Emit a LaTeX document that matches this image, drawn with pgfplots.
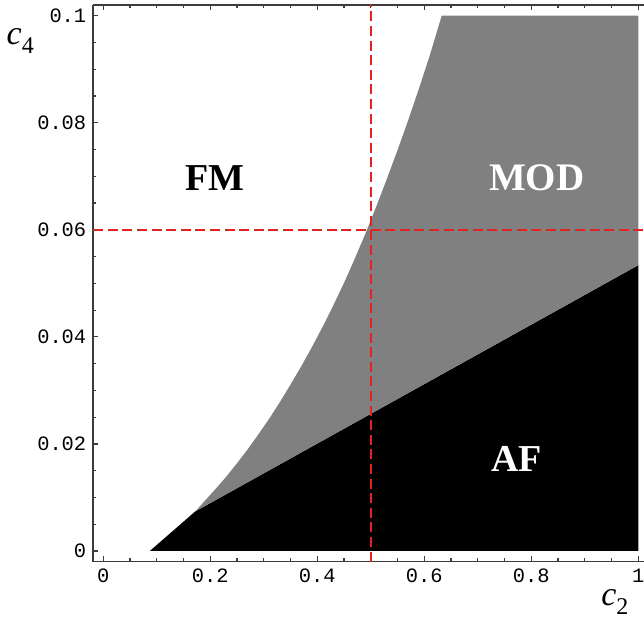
\documentclass[border=0pt]{standalone}
\usepackage{fontspec}
\setmainfont{Liberation Serif}
\setmonofont{Liberation Mono}
\usepackage{pgfplots}
\pgfplotsset{compat=1.18}
\definecolor{mgray}{RGB}{128,128,128}
\definecolor{dred}{RGB}{225,35,35}
\definecolor{axgray}{RGB}{60,60,60}
\begin{document}
\begin{tikzpicture}
\begin{axis}[
  scale only axis,
  width=275.35pt, height=278.35pt,
  xmin=-0.0187, xmax=1.0106,
  ymin=-0.002, ymax=0.102,
  axis x line*=box, axis y line*=left,
  axis line style={axgray, line width=0.8pt},
  tick align=inside,
  major tick length=2.6pt, minor tick length=1.6pt,
  every tick/.style={axgray, line width=0.6pt},
  xtick={0,0.2,0.4,0.6,0.8,1},
  xticklabels={0,0.2,0.4,0.6,0.8,1},
  ytick={0,0.02,0.04,0.06,0.08,0.1},
  yticklabels={0,0.02,0.04,0.06,0.08,0.1},
  minor x tick num=3, minor y tick num=3,
  ticklabel style={font=\fontsize{10.2}{12}\selectfont\ttfamily},
  clip=false,
]
% AF region
\addplot[fill=black, draw=none] coordinates {
  (0.087,0) (0.172,0.0074) (1,0.0534) (1,0)
} -- cycle;
% MOD region
\addplot[fill=mgray, draw=none] coordinates {
  (0.172,0.0074) (0.19,0.0094) (0.21,0.0116) (0.23,0.0139) (0.25,0.0164)
  (0.27,0.0190) (0.29,0.0218) (0.31,0.0247) (0.33,0.0278) (0.35,0.0311)
  (0.37,0.0345) (0.39,0.0381) (0.41,0.0419) (0.43,0.0459) (0.45,0.0501)
  (0.47,0.0546) (0.49,0.0593) (0.51,0.0643) (0.53,0.0695) (0.55,0.0749)
  (0.57,0.0805) (0.59,0.0864) (0.61,0.0925) (0.6325,0.1)
  (1,0.1) (1,0.0534)
} -- cycle;
% dashed guide lines
\addplot[dred, line width=0.9pt, dash pattern=on 5pt off 2.3pt] coordinates {(0.5,-0.002) (0.5,0.102)};
\addplot[dred, line width=0.9pt, dash pattern=on 5pt off 2.3pt] coordinates {(-0.0187,0.06) (1.0106,0.06)};
% region labels
\node[font=\fontsize{19}{21}\selectfont\bfseries, text=black] at (axis cs:0.209,0.0697) {FM};
\node[font=\fontsize{19.5}{21}\selectfont\bfseries, text=white] at (axis cs:0.81,0.0697) {MOD};
\node[font=\fontsize{19}{21}\selectfont\bfseries, text=white] at (axis cs:0.773,0.0172) {AF};
% axis labels
\node at (rel axis cs:-0.1326,0.935) {\fontsize{17}{18}\selectfont\textit{c}\raisebox{-0.28em}{\fontsize{12}{12}\selectfont 4}};
\node at (rel axis cs:0.947,-0.0724) {\fontsize{17}{18}\selectfont\textit{c}\raisebox{-0.28em}{\fontsize{12}{12}\selectfont 2}};
\coordinate (O) at (rel axis cs:0,0);
\end{axis}
\pgfresetboundingbox
\path[use as bounding box] ([shift={(-46.65pt,-29.15pt)}]O) rectangle ([shift={(275.35pt,280.85pt)}]O);
\end{tikzpicture}
\end{document}
